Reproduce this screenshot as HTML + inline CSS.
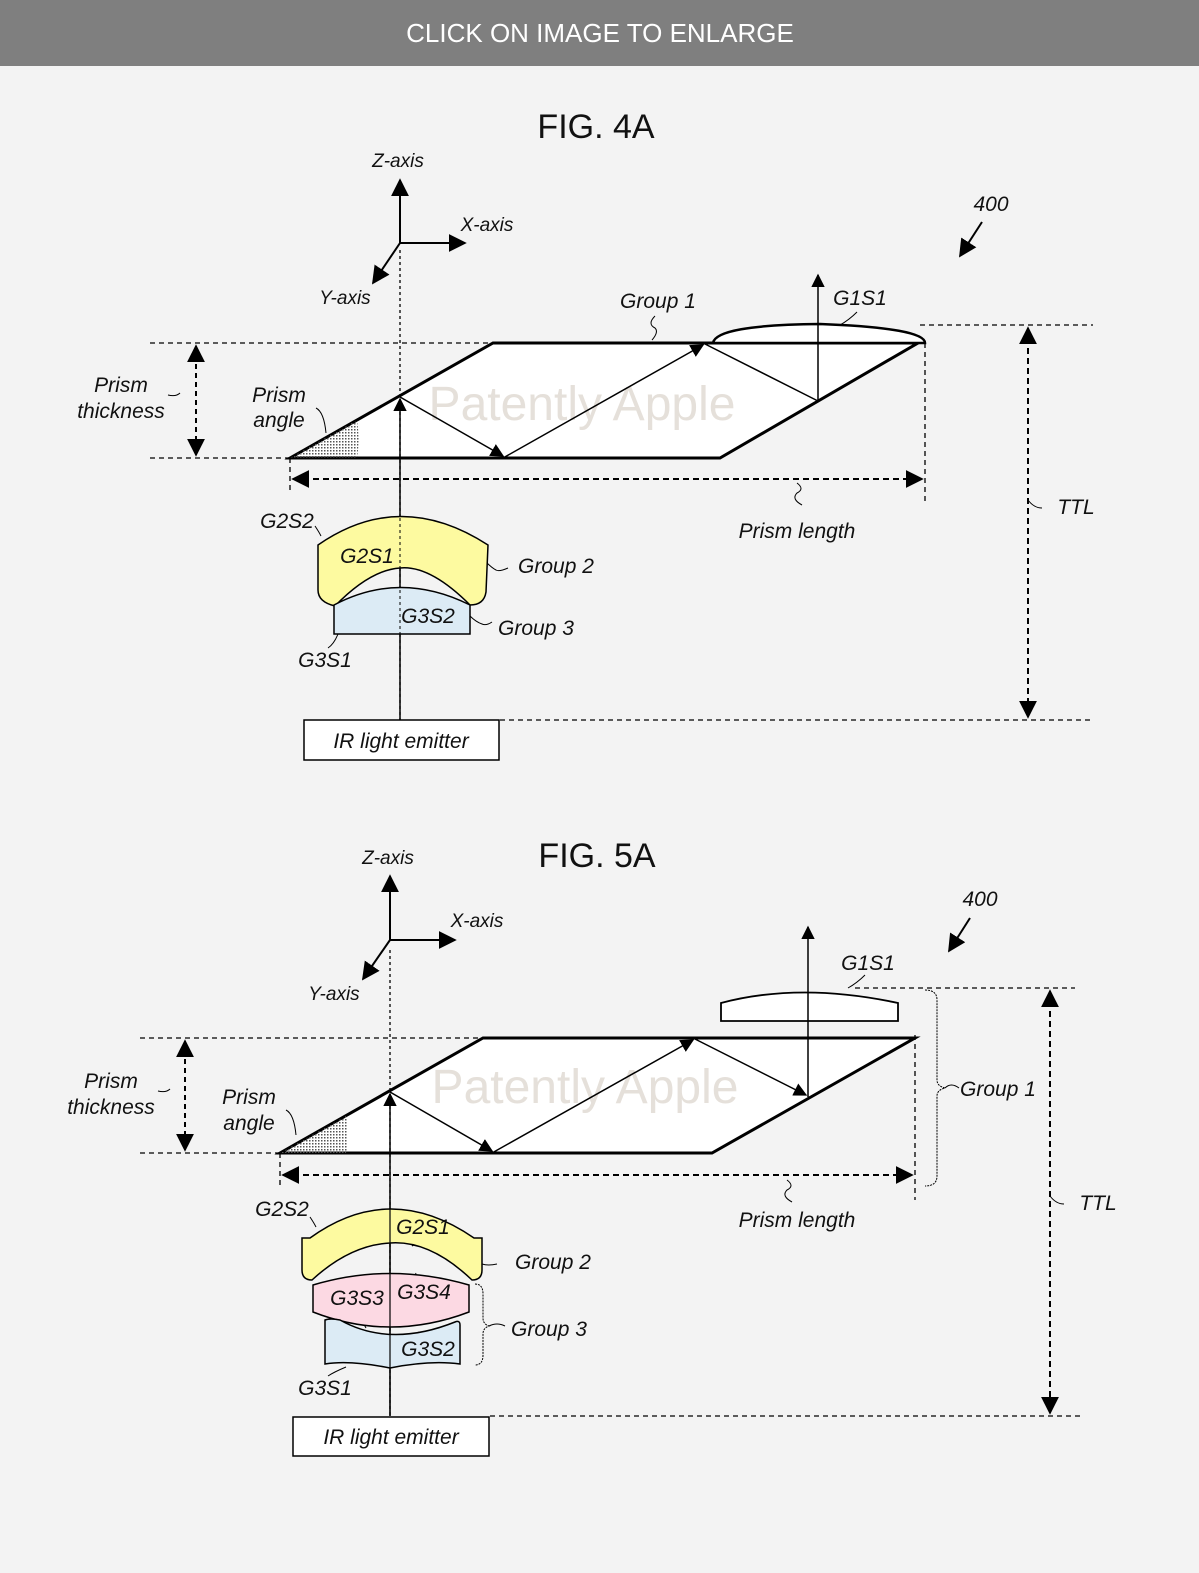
<!DOCTYPE html>
<html><head><meta charset="utf-8"><style>
html,body{margin:0;padding:0;background:#f3f3f3;}
svg{display:block;}
text{font-family:"Liberation Sans",sans-serif;fill:#111;}
.i{font-style:italic;font-size:21px;}
.s{font-size:19px;font-style:italic;}
</style></head><body>
<svg width="1199" height="1573" viewBox="0 0 1199 1573" xmlns="http://www.w3.org/2000/svg">
<defs>
<marker id="a" viewBox="0 0 10 10" refX="9" refY="5" markerWidth="9" markerHeight="9" orient="auto-start-reverse"><path d="M0,0L10,5L0,10z" fill="#000"/></marker>
<pattern id="dots" width="3" height="3" patternUnits="userSpaceOnUse"><rect width="1.5" height="1.5" fill="#555"/></pattern>
</defs>
<rect width="1199" height="1573" fill="#f3f3f3"/>
<rect width="1199" height="66" fill="#7f7f7f"/>
<text x="600" y="42" text-anchor="middle" style="fill:#fff;font-size:26px">CLICK ON IMAGE TO ENLARGE</text>

<!-- FIG 4A -->
<text x="596" y="138" text-anchor="middle" style="font-size:34px">FIG. 4A</text>
<g stroke="#000" stroke-width="2" fill="none">
<line x1="400" y1="243" x2="400" y2="180" marker-end="url(#a)"/>
<line x1="400" y1="243" x2="465" y2="243" marker-end="url(#a)"/>
<line x1="400" y1="243" x2="373" y2="283" marker-end="url(#a)"/>
</g>
<text class="s" x="398" y="167" text-anchor="middle">Z-axis</text>
<text class="s" x="487" y="231" text-anchor="middle">X-axis</text>
<text class="s" x="345" y="304" text-anchor="middle">Y-axis</text>
<text x="991" y="211" text-anchor="middle" class="i">400</text>
<line x1="982" y1="222" x2="960" y2="256" stroke="#000" stroke-width="2" marker-end="url(#a)"/>
<g stroke="#000" stroke-width="1.3" stroke-dasharray="5,4" fill="none">
<line x1="150" y1="343" x2="490" y2="343"/>
<line x1="150" y1="458" x2="290" y2="458"/>
<line x1="920" y1="325" x2="1093" y2="325"/>
<line x1="500" y1="720" x2="1090" y2="720"/>
<line x1="925" y1="343" x2="925" y2="502"/>
<line x1="290" y1="458" x2="290" y2="490"/>
</g>
<polygon points="290,458 493,343 918,343 720,458" fill="#fff" stroke="#000" stroke-width="3"/>
<path d="M290,458 L357,420 Q360,440 357,458z" fill="url(#dots)"/>
<path d="M713,343 Q716,325 820,324 Q925,328 925,343 z" fill="#fff" stroke="#000" stroke-width="2.5"/>
<text x="582" y="420" text-anchor="middle" style="font-size:48px;fill:#e5e0da">Patently Apple</text>
<line x1="400" y1="250" x2="400" y2="720" stroke="#000" stroke-width="1.3" stroke-dasharray="3,3"/>
<g stroke="#000" stroke-width="1.5" fill="none">
<line x1="400" y1="720" x2="400" y2="399" marker-end="url(#a)"/>
<line x1="400" y1="397" x2="503" y2="456" marker-end="url(#a)"/>
<line x1="503" y1="458" x2="703" y2="345" marker-end="url(#a)"/>
<line x1="703" y1="343" x2="818" y2="401"/>
<line x1="818" y1="401" x2="818" y2="275" marker-end="url(#a)"/>
</g>
<g stroke="#000" stroke-width="2" fill="none">
<line x1="196" y1="346" x2="196" y2="455" stroke-dasharray="5,4" marker-end="url(#a)" marker-start="url(#a)"/>
<line x1="293" y1="479" x2="922" y2="479" stroke-dasharray="6,4" marker-end="url(#a)" marker-start="url(#a)"/>
<line x1="1028" y1="328" x2="1028" y2="717" stroke-dasharray="6,4" marker-end="url(#a)" marker-start="url(#a)"/>
</g>
<g stroke="#000" stroke-width="1" fill="none">
<path d="M168,395 q8,2 12,-2"/>
<path d="M316,408 q8,4 10,25"/>
<path d="M655,316 q-8,8 0,12 q4,4 -3,12"/>
<path d="M857,312 q-8,8 -17,13"/>
<path d="M797,483 q8,6 0,10 q-6,6 5,12"/>
<path d="M1028,500 q6,8 14,8"/>
<path d="M315,526 q4,6 6,10"/>
<path d="M367,566 q4,5 7,8"/>
<path d="M415,598 q4,2 2,6"/>
<path d="M486,562 q6,6 10,8 q3,2 12,-2"/>
<path d="M470,616 q6,6 12,8 q4,2 10,-2"/>
<path d="M328,648 q6,-4 10,-14"/>
</g>
<text class="s" x="121" y="392" text-anchor="middle" style="font-size:21px">Prism</text>
<text class="s" x="121" y="418" text-anchor="middle" style="font-size:21px">thickness</text>
<text class="s" x="279" y="402" text-anchor="middle" style="font-size:21px">Prism</text>
<text class="s" x="279" y="427" text-anchor="middle" style="font-size:21px">angle</text>
<text class="s" x="658" y="308" text-anchor="middle" style="font-size:21px">Group 1</text>
<text class="s" x="860" y="305" text-anchor="middle" style="font-size:21px">G1S1</text>
<text class="s" x="797" y="538" text-anchor="middle" style="font-size:21px">Prism length</text>
<text class="s" x="1076" y="514" text-anchor="middle" style="font-size:21px">TTL</text>
<path d="M318,545 Q400,488 488,545 L486,592 Q484,605 470,605 Q430,565 400,568 Q370,570 335,606 Q318,602 318,590 z" fill="#fdfaa0" stroke="#000" stroke-width="1.5"/>
<path d="M334,605 Q400,570 470,605 L470,634 L334,634 z" fill="#dcebf5" stroke="#000" stroke-width="1.5"/>
<line x1="400" y1="500" x2="400" y2="720" stroke="#000" stroke-width="1" stroke-dasharray="3,3"/>
<text class="s" x="287" y="528" text-anchor="middle" style="font-size:21px">G2S2</text>
<text class="s" x="367" y="563" text-anchor="middle" style="font-size:21px">G2S1</text>
<text class="s" x="428" y="623" text-anchor="middle" style="font-size:21px">G3S2</text>
<text class="s" x="556" y="573" text-anchor="middle" style="font-size:21px">Group 2</text>
<text class="s" x="536" y="635" text-anchor="middle" style="font-size:21px">Group 3</text>
<text class="s" x="325" y="667" text-anchor="middle" style="font-size:21px">G3S1</text>
<rect x="304" y="720" width="195" height="40" fill="#fff" stroke="#000" stroke-width="1.5"/>
<text class="s" x="401" y="748" text-anchor="middle" style="font-size:21px">IR light emitter</text>

<!-- FIG 5A -->
<text x="597" y="867" text-anchor="middle" style="font-size:34px">FIG. 5A</text>
<g stroke="#000" stroke-width="2" fill="none">
<line x1="390" y1="940" x2="390" y2="876" marker-end="url(#a)"/>
<line x1="390" y1="940" x2="455" y2="940" marker-end="url(#a)"/>
<line x1="390" y1="940" x2="363" y2="979" marker-end="url(#a)"/>
</g>
<text class="s" x="388" y="864" text-anchor="middle">Z-axis</text>
<text class="s" x="477" y="927" text-anchor="middle">X-axis</text>
<text class="s" x="334" y="1000" text-anchor="middle">Y-axis</text>
<text x="980" y="906" text-anchor="middle" class="i">400</text>
<line x1="970" y1="918" x2="949" y2="951" stroke="#000" stroke-width="2" marker-end="url(#a)"/>
<g stroke="#000" stroke-width="1.3" stroke-dasharray="5,4" fill="none">
<line x1="140" y1="1038" x2="483" y2="1038"/>
<line x1="140" y1="1153" x2="280" y2="1153"/>
<line x1="855" y1="988" x2="1075" y2="988"/>
<line x1="490" y1="1416" x2="1080" y2="1416"/>
<line x1="915" y1="1035" x2="915" y2="1200"/>
<line x1="280" y1="1153" x2="280" y2="1185"/>
</g>
<polygon points="280,1153 483,1038 915,1038 712,1153" fill="#fff" stroke="#000" stroke-width="3"/>
<path d="M280,1153 L346,1116 Q350,1135 346,1153z" fill="url(#dots)"/>
<path d="M721,1021 L721,1003 Q800,982 898,1003 L898,1021 z" fill="#fff" stroke="#000" stroke-width="1.8"/>
<text x="585" y="1103" text-anchor="middle" style="font-size:48px;fill:#e5e0da">Patently Apple</text>
<line x1="390" y1="950" x2="390" y2="1416" stroke="#000" stroke-width="1.3" stroke-dasharray="3,3"/>
<g stroke="#000" stroke-width="1.5" fill="none">
<line x1="390" y1="1416" x2="390" y2="1094" marker-end="url(#a)"/>
<line x1="390" y1="1092" x2="492" y2="1151" marker-end="url(#a)"/>
<line x1="492" y1="1153" x2="693" y2="1040" marker-end="url(#a)"/>
<line x1="693" y1="1038" x2="806" y2="1095" marker-end="url(#a)"/>
<line x1="808" y1="1097" x2="808" y2="927" marker-end="url(#a)"/>
</g>
<g stroke="#000" stroke-width="2" fill="none">
<line x1="185" y1="1041" x2="185" y2="1150" stroke-dasharray="5,4" marker-end="url(#a)" marker-start="url(#a)"/>
<line x1="283" y1="1175" x2="912" y2="1175" stroke-dasharray="6,4" marker-end="url(#a)" marker-start="url(#a)"/>
<line x1="1050" y1="991" x2="1050" y2="1413" stroke-dasharray="6,4" marker-end="url(#a)" marker-start="url(#a)"/>
</g>
<g stroke="#000" stroke-width="1" fill="none">
<path d="M158,1091 q8,2 12,-2"/>
<path d="M286,1110 q8,4 10,25"/>
<path d="M865,975 q-8,8 -17,13"/>
<path d="M787,1180 q8,6 0,10 q-6,6 5,12"/>
<path d="M1050,1196 q6,8 14,8"/>
<path d="M925,990 q12,0 12,10 L937,1080 q0,6 8,8 q-8,2 -8,8 L937,1176 q0,10 -12,10" stroke-dasharray="2,1"/>
<path d="M945,1088 q6,-6 14,0"/>
<path d="M475,1284 q8,0 8,10 L483,1318 q0,6 6,8 q-6,2 -6,8 L483,1355 q0,10 -8,10" stroke-dasharray="2,1"/>
<path d="M489,1326 q8,-4 16,0"/>
<path d="M310,1217 q4,6 6,10"/>
<path d="M418,1240 q-2,4 -6,6"/>
<path d="M416,1273 q-2,6 -4,8"/>
<path d="M360,1320 q4,4 6,8"/>
<path d="M418,1332 q4,4 6,8"/>
<path d="M482,1264 q6,2 15,0"/>
<path d="M328,1376 q6,-4 18,-9"/>
</g>
<text class="s" x="111" y="1088" text-anchor="middle" style="font-size:21px">Prism</text>
<text class="s" x="111" y="1114" text-anchor="middle" style="font-size:21px">thickness</text>
<text class="s" x="249" y="1104" text-anchor="middle" style="font-size:21px">Prism</text>
<text class="s" x="249" y="1130" text-anchor="middle" style="font-size:21px">angle</text>
<text class="s" x="868" y="970" text-anchor="middle" style="font-size:21px">G1S1</text>
<text class="s" x="998" y="1096" text-anchor="middle" style="font-size:21px">Group 1</text>
<text class="s" x="797" y="1227" text-anchor="middle" style="font-size:21px">Prism length</text>
<text class="s" x="1098" y="1210" text-anchor="middle" style="font-size:21px">TTL</text>
<path d="M302,1238 L310,1238 Q390,1180 474,1238 L482,1238 L482,1270 Q482,1280 472,1280 Q430,1240 390,1243 Q350,1245 312,1280 Q302,1280 302,1270 z" fill="#fdfaa0" stroke="#000" stroke-width="1.5"/>
<path d="M313,1285 Q390,1262 469,1285 L469,1312 Q390,1342 313,1312 z" fill="#fcd9e3" stroke="#000" stroke-width="1.5"/>
<path d="M325,1320 Q330,1318 340,1320 Q390,1348 455,1322 Q460,1320 460,1325 L460,1364 Q430,1360 390,1368 Q350,1360 325,1364 z" fill="#dcebf5" stroke="#000" stroke-width="1.5"/>
<line x1="390" y1="1200" x2="390" y2="1416" stroke="#000" stroke-width="1.2"/>
<text class="s" x="282" y="1216" text-anchor="middle" style="font-size:21px">G2S2</text>
<text class="s" x="423" y="1234" text-anchor="middle" style="font-size:21px">G2S1</text>
<text class="s" x="357" y="1305" text-anchor="middle" style="font-size:21px">G3S3</text>
<text class="s" x="424" y="1299" text-anchor="middle" style="font-size:21px">G3S4</text>
<text class="s" x="428" y="1356" text-anchor="middle" style="font-size:21px">G3S2</text>
<text class="s" x="553" y="1269" text-anchor="middle" style="font-size:21px">Group 2</text>
<text class="s" x="549" y="1336" text-anchor="middle" style="font-size:21px">Group 3</text>
<text class="s" x="325" y="1395" text-anchor="middle" style="font-size:21px">G3S1</text>
<rect x="293" y="1417" width="196" height="39" fill="#fff" stroke="#000" stroke-width="1.5"/>
<text class="s" x="391" y="1444" text-anchor="middle" style="font-size:21px">IR light emitter</text>
</svg>
</body></html>
